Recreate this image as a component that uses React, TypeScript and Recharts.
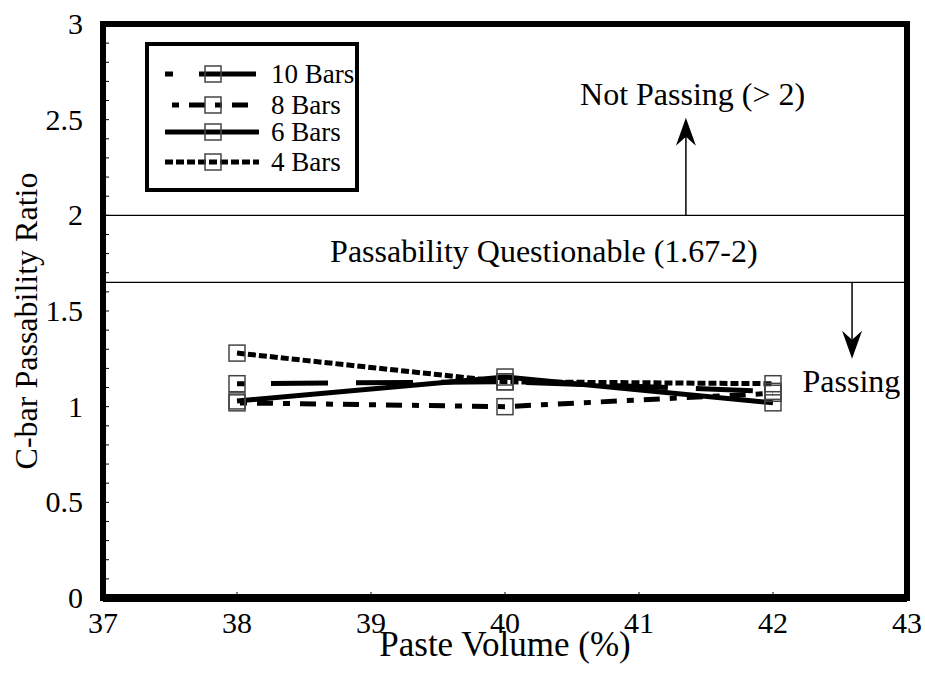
import React from 'react';
import {
  LineChart,
  Line,
  XAxis,
  YAxis,
  ReferenceLine,
  ReferenceArea,
  ReferenceDot,
  Legend
} from 'recharts';

// Paste volume (%) and C-bar passability ratio for each bar count
const pasteVolume = [38, 40, 42];
const bars10 = [1.12, 1.13, 1.08];
const bars8 = [1.02, 1.0, 1.07];
const bars6 = [1.03, 1.155, 1.02];
const bars4 = [1.28, 1.13, 1.12];

const xTicks = [37, 38, 39, 40, 41, 42, 43];
const yTicks = Array.from({ length: 31 }, (_, i) => i / 10);
const yLabels = [0, 0.5, 1, 1.5, 2, 2.5, 3];

// limits of the passability zones
const notPassingLimit = 2;
const questionableLimit = 1.65;

const data = pasteVolume.map((x, i) => ({
  x,
  b10: bars10[i],
  b8: bars8[i],
  b6: bars6[i],
  b4: bars4[i]
}));

const FONT = '"Liberation Serif", "Times New Roman", serif';
const serif = { fontFamily: FONT };

// dot, then long dashes only
const longDash = '8 26 ' + Array(8).fill('57 28').join(' ');

const series = [
  { key: 'b10', name: '10 Bars', dash: longDash, legendOffset: 0 },
  { key: 'b8', name: '8 Bars', dash: '16 10 7 10', offset: 23, legendOffset: 26 },
  { key: 'b6', name: '6 Bars', dash: undefined, legendOffset: 0 },
  { key: 'b4', name: '4 Bars', dash: '8 3', legendOffset: 0 }
];

const SquareDot = (props: any) => {
  const { cx, cy, index } = props;
  if (cx == null || cy == null) return null;
  return (
    <rect
      key={index}
      x={cx - 8}
      y={cy - 8}
      width={16}
      height={16}
      fill="none"
      stroke="#444"
      strokeWidth={1.5}
    />
  );
};

const XTick = (props: any) => {
  const { x, y, payload } = props;
  return (
    <text x={x} y={y + 21} textAnchor="middle" fontSize={30} fill="#000" style={serif}>
      {payload.value}
    </text>
  );
};

const YTick = (props: any) => {
  const { x, y, payload } = props;
  const show = yLabels.some((l) => Math.abs(l - payload.value) < 1e-6);
  if (!show) return null;
  return (
    <text x={x} y={y + 10} textAnchor="end" fontSize={30} fill="#000" style={serif}>
      {String(payload.value)}
    </text>
  );
};

// vertical arrow drawn from a reference segment
const Arrow = (props: any) => {
  const { x1, y1, x2, y2 } = props;
  const dir = y2 < y1 ? 1 : -1; // 1 = points up
  const len = 28;
  const half = 10;
  const notch = 19;
  const head = `M${x2},${y2} L${x2 - half},${y2 + dir * len} L${x2},${y2 + dir * notch} L${x2 + half},${y2 + dir * len} Z`;
  return (
    <g>
      <line x1={x1} y1={y1} x2={x2} y2={y2 + dir * notch} stroke="#000" strokeWidth={1.5} />
      <path d={head} fill="#000" />
    </g>
  );
};

const note = (text: string, anchor: 'start' | 'middle') => (props: any) => (
  <text x={props.cx} y={props.cy} textAnchor={anchor} fontSize={32} fill="#000" style={serif}>
    {text}
  </text>
);

const LegendBox = () => {
  const rows = [32, 63, 90, 120];
  return (
    <svg width={214} height={150} style={{ display: 'block' }}>
      <rect x={2} y={2} width={210} height={146} fill="#fff" stroke="#000" strokeWidth={4} />
      {series.map((s, i) => (
        <g key={s.key}>
          <line
            x1={s.key === 'b8' ? 27 : 20}
            x2={s.key === 'b8' ? 104 : 114}
            y1={rows[i]}
            y2={rows[i]}
            stroke="#000"
            strokeWidth={5}
            strokeDasharray={s.dash}
            strokeDashoffset={s.legendOffset}
          />
          <rect x={60} y={rows[i] - 8} width={16} height={16} fill="none" stroke="#444" strokeWidth={1.5} />
          <text x={126} y={rows[i] + 9} fontSize={27} fill="#000" style={serif}>
            {s.name}
          </text>
        </g>
      ))}
    </svg>
  );
};

const App: React.FC = () => {
  return (
    <div style={{ position: 'absolute', left: 0, top: 0, background: '#fff', fontFamily: FONT }}>
      <LineChart
        width={925}
        height={677}
        data={data}
        margin={{ top: 24, right: 18, bottom: 0, left: 0 }}
        style={serif}
      >
        <XAxis
          dataKey="x"
          type="number"
          domain={[37, 43]}
          ticks={xTicks}
          interval={0}
          axisLine={false}
          tickSize={-6}
          tickMargin={20}
          tickLine={{ stroke: '#000', strokeWidth: 1 }}
          tick={XTick}
          height={79}
          label={{
            content: (p: any) => (
              <text
                x={p.viewBox.x + p.viewBox.width / 2}
                y={p.viewBox.y + 58}
                textAnchor="middle"
                fontSize={35}
                fill="#000"
                style={serif}
              >
                Paste Volume (%)
              </text>
            )
          }}
        />
        <YAxis
          type="number"
          domain={[0, 3]}
          ticks={yTicks}
          interval={0}
          axisLine={false}
          tickSize={-6}
          tickMargin={26}
          tickLine={{ stroke: '#000', strokeWidth: 1 }}
          tick={YTick}
          width={103}
          label={{
            content: (p: any) => {
              const x = p.viewBox.x + 37;
              const y = p.viewBox.y + p.viewBox.height / 2 + 10;
              return (
                <text
                  x={x}
                  y={y}
                  transform={`rotate(-90, ${x}, ${y})`}
                  textAnchor="middle"
                  fontSize={32}
                  fill="#000"
                  style={serif}
                >
                  C-bar Passability Ratio
                </text>
              );
            }
          }}
        />

        <ReferenceLine y={notPassingLimit} stroke="#000" strokeWidth={1.2} />
        <ReferenceLine y={questionableLimit} stroke="#000" strokeWidth={1.2} />

        <ReferenceLine
          segment={[{ x: 41.35, y: notPassingLimit }, { x: 41.35, y: 2.51 }]}
          shape={Arrow}
        />
        <ReferenceLine
          segment={[{ x: 42.59, y: questionableLimit }, { x: 42.59, y: 1.25 }]}
          shape={Arrow}
        />

        <ReferenceDot x={41.4} y={2.577} r={0} shape={note('Not Passing (> 2)', 'middle')} />
        <ReferenceDot x={40.29} y={1.756} r={0} shape={note('Passability Questionable (1.67-2)', 'middle')} />
        <ReferenceDot x={42.22} y={1.077} r={0} shape={note('Passing', 'start')} />

        {series.map((s) => (
          <Line
            key={s.key}
            dataKey={s.key}
            name={s.name}
            type="linear"
            stroke="#000"
            strokeWidth={5}
            strokeDasharray={s.dash}
            strokeDashoffset={s.offset}
            dot={SquareDot}
            activeDot={false}
            isAnimationActive={false}
          />
        ))}

        {/* plot frame */}
        <ReferenceArea x1={37} x2={43} y1={0} y2={3} fill="none" stroke="#000" strokeWidth={6} />
        <ReferenceLine y={0} stroke="#000" strokeWidth={8} />

        <Legend
          layout="vertical"
          align="center"
          verticalAlign="middle"
          wrapperStyle={{ left: 145, top: 42, width: 214, height: 150 }}
          content={LegendBox}
        />
      </LineChart>
    </div>
  );
};

export default App;
